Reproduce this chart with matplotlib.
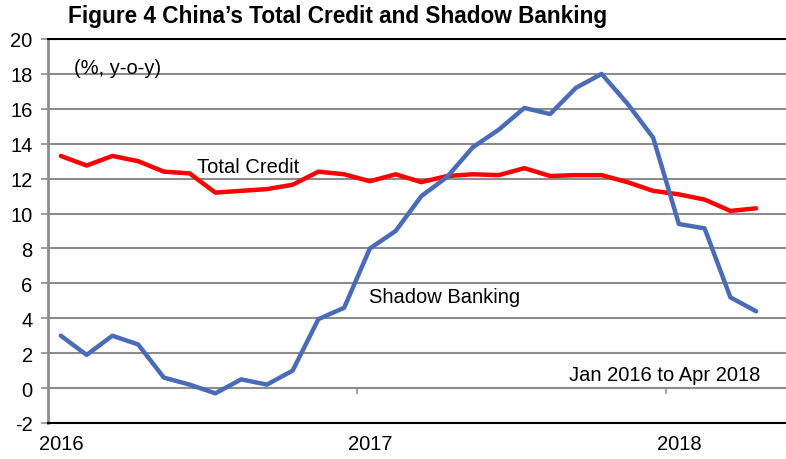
import matplotlib.pyplot as plt

plt.rcParams['font.family'] = ['Liberation Sans', 'DejaVu Sans']
plt.rcParams['axes.unicode_minus'] = False

# monthly y-o-y growth, Jan 2016 .. Apr 2018
months = list(range(28))
total_credit = [13.3, 12.75, 13.3, 13.0, 12.4, 12.3, 11.2, 11.3, 11.4, 11.65, 12.4, 12.25,
                11.85, 12.25, 11.8, 12.15, 12.25, 12.2, 12.6, 12.15, 12.2, 12.2, 11.8, 11.3,
                11.1, 10.8, 10.15, 10.3]
shadow_banking = [3.0, 1.9, 3.0, 2.5, 0.6, 0.2, -0.3, 0.5, 0.2, 1.0, 3.95, 4.6,
                  8.0, 9.0, 11.0, 12.1, 13.8, 14.8, 16.05, 15.7, 17.2, 18.0, 16.3, 14.35,
                  9.4, 9.15, 5.2, 4.4]
year_labels = ['2016', '2017', '2018']
year_pos = [0, 12, 24]
year_bounds = [11.5, 23.5]

fig = plt.figure(figsize=(7.86, 4.6), dpi=100)
ax = fig.add_axes([48 / 786, 36 / 460, 1 - 48 / 786, 384 / 460])

ax.set_ylim(-2, 20)
ax.set_xlim(-0.5, 28.16)
ax.set_yticks(range(-2, 21, 2))
ax.grid(axis='y', color='#8c8c8c', linewidth=1.5)
ax.set_axisbelow(True)

ax.plot(months, total_credit, color='#ff0000', linewidth=3.2, solid_capstyle='round', zorder=3)
ax.plot(months, shadow_banking, color='#4a6cb8', linewidth=3.2, solid_capstyle='round', zorder=4)

for s in ['top', 'bottom']:
    ax.spines[s].set_color('black')
    ax.spines[s].set_linewidth(1.5)
ax.spines['left'].set_color('#8c8c8c')
ax.spines['left'].set_linewidth(2)
ax.spines['right'].set_visible(False)

ax.set_xticks([])
ax.tick_params(axis='y', length=5, width=1.2, color='#8c8c8c', pad=6, labelsize=14.5)

# small year markers on the zero line
for b in year_bounds:
    ax.plot([b, b], [0, -0.3], color='#8c8c8c', linewidth=1.2, zorder=2)
for p, lab in zip(year_pos, year_labels):
    ax.text(p, -3.15, lab, ha='center', va='center', fontsize=14.5)

ax.text(0.5, 18.35, '(%, y-o-y)', fontsize=14.5, va='center', ha='left')
ax.text(5.3, 12.7, 'Total Credit', fontsize=14.5, va='center', ha='left')
ax.text(11.95, 5.25, 'Shadow Banking', fontsize=14.5, va='center', ha='left')
ax.text(19.75, 0.75, 'Jan 2016 to Apr 2018', fontsize=14.5, va='center', ha='left')

fig.text(68 / 786, 1 - 17 / 460, 'Figure 4 China\u2019s Total Credit and Shadow Banking',
         fontsize=16.3, fontweight='bold', va='center', ha='left')

fig.savefig('out.png', dpi=100)
